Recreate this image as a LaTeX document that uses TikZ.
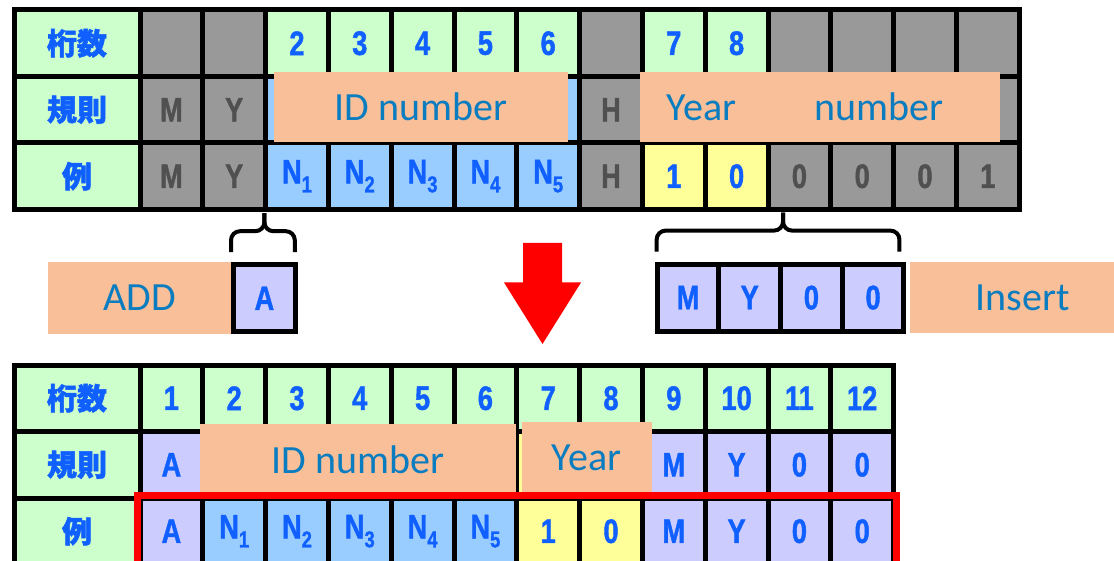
\documentclass[tikz,border=0pt]{standalone}
\usepackage{fontspec}
\usepackage{tikz}
\setmainfont{Liberation Sans}
\newfontfamily\cjk[BoldFeatures={FakeBold=1.5}]{Noto Sans CJK JP}
\newfontfamily\cellfont[FakeStretch=0.8,BoldFeatures={FakeBold=1.2}]{Liberation Sans}
\newfontfamily\notefont{Carlito}
\usetikzlibrary{positioning}

\definecolor{cgreen}{HTML}{CCFFCC}
\definecolor{cgray}{HTML}{999999}
\definecolor{cblue}{HTML}{99CCFF}
\definecolor{cyellow}{HTML}{FFFF99}
\definecolor{clav}{HTML}{CCCCFF}
\definecolor{notefill}{HTML}{F8BF98}
\definecolor{notetext}{HTML}{0A7CC0}
\definecolor{cellblue}{HTML}{1060FF}
\definecolor{textgray}{HTML}{505050}

\newcommand\nsub[1]{N\raisebox{-9pt}{\fontsize{23pt}{23pt}\selectfont #1}}

\begin{document}
\begin{tikzpicture}[x=1pt,y=-1pt]
  \tikzstyle{cell}=[draw=black,line width=5pt,minimum width=62.8pt,
                    minimum height=66.5pt,inner sep=0pt,
                    font=\cellfont\bfseries\fontsize{34pt}{34pt}\selectfont]
  \tikzstyle{lab}=[cell,fill=cgreen,text=cellblue,minimum width=126pt,
                   font=\cjk\bfseries\fontsize{30pt}{30pt}\selectfont]
  \tikzstyle{note}=[fill=notefill,text=notetext,inner sep=0pt,
                    font=\notefont\fontsize{40pt}{40pt}\selectfont]
  \tikzstyle{bracket}=[draw=black,line width=4pt,rounded corners=9pt]
  \useasboundingbox (0,0) rectangle (1114,561);

  % before
  \foreach \r/\y/\t in {1/43.25/桁数,2/109.75/規則,3/176.25/例}
    \node[lab] (tlab\r) at (77,\y) {\t};
  \foreach \i/\c/\k/\t in {1/cgray/textgray/{},2/cgray/textgray/{},
      3/cgreen/cellblue/2,4/cgreen/cellblue/3,5/cgreen/cellblue/4,
      6/cgreen/cellblue/5,7/cgreen/cellblue/6,8/cgray/textgray/{},
      9/cgreen/cellblue/7,10/cgreen/cellblue/8,11/cgray/textgray/{},
      12/cgray/textgray/{},13/cgray/textgray/{},14/cgray/textgray/{}}
    \node[cell,fill=\c,text=\k] (t1-\i) at ({140+(\i-0.5)*62.8},43.25) {\t};
  \foreach \i/\c/\k/\t in {1/cgray/textgray/M,2/cgray/textgray/Y,
      3/cblue/cellblue/{},4/cblue/cellblue/{},5/cblue/cellblue/{},
      6/cblue/cellblue/{},7/cblue/cellblue/{},8/cgray/textgray/H,
      9/cyellow/cellblue/{},10/cyellow/cellblue/{},11/cgray/textgray/{},
      12/cgray/textgray/{},13/cgray/textgray/{},14/cgray/textgray/{}}
    \node[cell,fill=\c,text=\k] (t2-\i) at ({140+(\i-0.5)*62.8},109.75) {\t};
  \foreach \i/\c/\k/\t in {1/cgray/textgray/M,2/cgray/textgray/Y,
      3/cblue/cellblue/\nsub{1},4/cblue/cellblue/\nsub{2},
      5/cblue/cellblue/\nsub{3},6/cblue/cellblue/\nsub{4},
      7/cblue/cellblue/\nsub{5},8/cgray/textgray/H,
      9/cyellow/cellblue/1,10/cyellow/cellblue/0,11/cgray/textgray/0,
      12/cgray/textgray/0,13/cgray/textgray/0,14/cgray/textgray/1}
    \node[cell,fill=\c,text=\k] (t3-\i) at ({140+(\i-0.5)*62.8},176.25) {\t};

  \node[note,minimum width=294pt,minimum height=70pt] (idtop) at (421,107)
    {ID number};
  \node[note,minimum width=360pt,minimum height=70pt] (yeartop) at (820,107)
    {Year\hspace{78pt}number\hspace*{30pt}\mbox{}};

  % middle
  \node[note,minimum width=182.7pt,minimum height=72.3pt] (addlbl)
    at (139.7,297.8) {ADD};
  \node[cell,fill=clav,text=cellblue,minimum width=61.8pt,minimum height=67pt]
    (addA) at (264.4,298.2) {A};
  \foreach \i/\t in {1/M,2/Y,3/0,4/0}
    \node[cell,fill=clav,text=cellblue,minimum width=61.7pt,minimum height=67pt]
      (ins\i) at ({626.3+\i*61.7},297.6) {\t};
  \node[note,minimum width=225pt,minimum height=71.3pt] (insertlbl)
    at (1022.5,297.7) {Insert};

  \draw[bracket] ([yshift=10pt]addA.north west) |- ([yshift=31pt]addA.north)
    -- ([yshift=49pt]addA.north);
  \draw[bracket] ([xshift=-3pt,yshift=10pt]addA.north east)
    |- ([yshift=31pt]addA.north) -- ([yshift=49pt]addA.north);
  \draw[bracket] ([xshift=2pt,yshift=10pt]ins1.north west)
    |- ([yshift=31pt]ins2.north east) -- ([yshift=49pt]ins2.north east);
  \draw[bracket] ([xshift=-7pt,yshift=10pt]ins4.north east)
    |- ([yshift=31pt]ins2.north east) -- ([yshift=49pt]ins2.north east);

  \fill[red] (523,243) -- (562,243) -- (562,282.5) -- (581,282.5)
    -- (542.5,344) -- (504,282.5) -- (523,282.5) -- cycle;

  % after
  \foreach \r/\y/\t in {1/398.25/桁数,2/464.75/規則,3/531.25/例}
    \node[lab] (blab\r) at (77,\y) {\t};
  \foreach \i in {1,...,12}
    \node[cell,fill=cgreen,text=cellblue] (b1-\i)
      at ({140+(\i-0.5)*62.8},398.25) {\i};
  \foreach \i/\c/\t in {1/clav/A,2/cblue/{},3/cblue/{},4/cblue/{},
      5/cblue/{},6/cblue/{},7/cyellow/{},8/cyellow/{},9/clav/M,
      10/clav/Y,11/clav/0,12/clav/0}
    \node[cell,fill=\c,text=cellblue] (b2-\i)
      at ({140+(\i-0.5)*62.8},464.75) {\t};
  \foreach \i/\c/\t in {1/clav/A,2/cblue/\nsub{1},3/cblue/\nsub{2},
      4/cblue/\nsub{3},5/cblue/\nsub{4},6/cblue/\nsub{5},7/cyellow/1,
      8/cyellow/0,9/clav/M,10/clav/Y,11/clav/0,12/clav/0}
    \node[cell,fill=\c,text=cellblue] (b3-\i)
      at ({140+(\i-0.5)*62.8},531.25) {\t};

  \node[note,minimum width=316pt,minimum height=72pt] (idbot) at (358,460)
    {ID number};
  \node[note,minimum width=130pt,minimum height=72pt] (yearbot)
    at (586.8,457.8) {Year};

  \draw[red,line width=7pt] (b3-1.north west) rectangle (b3-12.south east);
\end{tikzpicture}
\end{document}
